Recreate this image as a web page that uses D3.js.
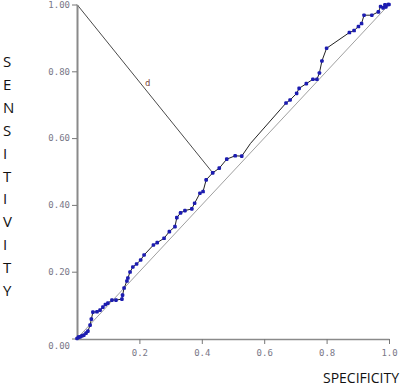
<!DOCTYPE html>
<html>
<head>
<meta charset="utf-8">
<script src="https://cdn.jsdelivr.net/npm/d3@7"></script>
<style>
  body { margin: 0; background: #fff; }
  svg { display: block; }
</style>
</head>
<body>
<div id="chart"></div>
<script>
// ROC points (1 - specificity on x, sensitivity on y)
let rocX = [0, 0.005, 0.010, 0.016, 0.022, 0.029, 0.035, 0.042, 0.046, 0.051, 0.064, 0.074, 0.083, 0.091, 0.099,
            0.112, 0.125, 0.144, 0.146, 0.151, 0.160, 0.163, 0.170, 0.179, 0.191, 0.204, 0.215, 0.245, 0.257,
            0.279, 0.296, 0.314, 0.320, 0.332, 0.346, 0.368, 0.377, 0.394, 0.404, 0.414, 0.435, 0.456, 0.480,
            0.507, 0.528, 0.556, 0.670, 0.683, 0.704, 0.712, 0.735, 0.756, 0.769, 0.777, 0.785,
            0.800, 0.873, 0.888, 0.902, 0.912, 0.920, 0.945, 0.966, 0.973, 0.981, 0.987, 0.990, 0.997, 1];
let rocY = [0, 0.004, 0.005, 0.008, 0.010, 0.016, 0.022, 0.040, 0.058, 0.079, 0.080, 0.085, 0.094, 0.102, 0.106,
            0.115, 0.115, 0.118, 0.130, 0.151, 0.172, 0.181, 0.199, 0.214, 0.223, 0.235, 0.250, 0.280, 0.287,
            0.300, 0.320, 0.335, 0.362, 0.376, 0.383, 0.388, 0.405, 0.435, 0.440, 0.475, 0.496, 0.510, 0.537,
            0.547, 0.546, 0.584, 0.705, 0.714, 0.734, 0.749, 0.763, 0.776, 0.776, 0.795, 0.831,
            0.869, 0.916, 0.922, 0.934, 0.943, 0.968, 0.968, 0.978, 0.994, 0.990, 0.999, 0.993, 1.0, 1.0];
// points on the curve that have no marker (just bends of the line)
let noMarker = [45];

// the "d" line from the top-left corner to the closest point
let dFrom = [0, 1];
let dTo = [0.435, 0.496];

let yTicks = [0, 0.2, 0.4, 0.6, 0.8, 1.0];
let xTicks = [0.2, 0.4, 0.6, 0.8, 1.0];
let yLetters = "SENSITIVITY".split("");

let margin = {left: 77, top: 4.5};
let w = 312, h = 334;

let svg = d3.select("#chart")
              .append("svg")
                .attr("width", 400)
                .attr("height", 386);

let x = d3.scaleLinear().domain([0, 1]).range([margin.left, margin.left + w]);
let y = d3.scaleLinear().domain([0, 1]).range([margin.top + h, margin.top]);

// chance diagonal
svg.append("line")
    .attr("x1", x(0)).attr("y1", y(0))
    .attr("x2", x(1)).attr("y2", y(1))
    .attr("stroke", "#a0a0a0")
    .attr("stroke-width", 1);

// d line
svg.append("line")
    .attr("x1", x(dFrom[0])).attr("y1", y(dFrom[1]))
    .attr("x2", x(dTo[0])).attr("y2", y(dTo[1]))
    .attr("stroke", "#4a4a4a")
    .attr("stroke-width", 1);

svg.append("text")
    .attr("x", x(0.218))
    .attr("y", y(0.755))
    .attr("font-family", "DejaVu Sans Mono")
    .attr("font-size", 9)
    .attr("fill", "#7a4a40")
    .text("d");

// axes
let yAxis = d3.axisLeft(y)
                .tickValues(yTicks)
                .tickFormat(d3.format(".2f"))
                .tickSize(5)
                .tickSizeOuter(0)
                .tickPadding(2);

let gy = svg.append("g")
              .attr("transform", "translate(" + margin.left + ",0)")
              .call(yAxis);
gy.select(".domain").attr("stroke", "#8a8a8a").attr("stroke-width", 2);
gy.selectAll(".tick line").attr("stroke", "#777");
gy.selectAll("text")
    .attr("font-family", "DejaVu Sans Mono")
    .attr("font-size", 9)
    .attr("fill", "#7a7888")
    .attr("dy", function(d){ return d === 0 ? "1.1em" : "0.32em"; });

let xAxis = d3.axisBottom(x)
                .tickValues(xTicks)
                .tickFormat(d3.format(".1f"))
                .tickSize(5)
                .tickSizeOuter(0)
                .tickPadding(6);

let gx = svg.append("g")
              .attr("transform", "translate(0," + (margin.top + h + 0.5) + ")")
              .call(xAxis);
gx.select(".domain").attr("stroke", "#8a8a8a").attr("stroke-width", 1.5);
gx.selectAll(".tick line").attr("stroke", "#777");
gx.selectAll("text")
    .attr("font-family", "DejaVu Sans Mono")
    .attr("font-size", 9)
    .attr("fill", "#7a7888");

// ROC curve
let pts = rocX.map(function(d, i){ return {x: d, y: rocY[i], i: i}; });

let line = d3.line()
               .x(function(d){ return x(d.x); })
               .y(function(d){ return y(d.y); });

svg.append("path")
    .attr("d", line(pts))
    .attr("fill", "none")
    .attr("stroke", "#222")
    .attr("stroke-width", 1);

svg.selectAll(".pt")
    .data(pts.filter(function(d){ return noMarker.indexOf(d.i) < 0; }))
    .enter()
    .append("rect")
      .attr("class", "pt")
      .attr("x", function(d){ return x(d.x) - 1.8; })
      .attr("y", function(d){ return y(d.y) - 1.8; })
      .attr("width", 3.6)
      .attr("height", 3.6)
      .attr("rx", 1.2)
      .attr("fill", "#1c1cb0");

// axis titles
svg.append("text")
    .attr("x", 399)
    .attr("y", 383)
    .attr("text-anchor", "end")
    .attr("font-family", "Open Sans")
    .attr("font-size", 14)
    .attr("fill", "#111")
    .text("SPECIFICITY");

svg.selectAll(".ylet")
    .data(yLetters)
    .enter()
    .append("text")
      .attr("class", "ylet")
      .attr("x", 3)
      .attr("y", function(d, i){ return 67 + i * 22.9; })
      .attr("font-family", "Open Sans")
      .attr("font-size", 15)
      .attr("fill", "#111")
      .text(function(d){ return d; });
</script>
</body>
</html>
